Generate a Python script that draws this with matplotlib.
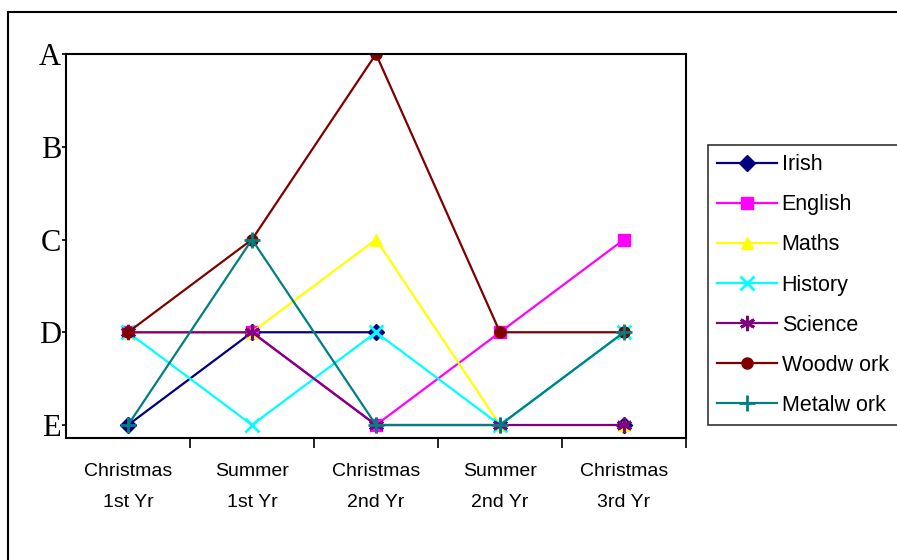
import numpy as np
import matplotlib
matplotlib.use("Agg")
import matplotlib.pyplot as plt
from matplotlib.patches import Rectangle

# Grade scale: E=1 ... A=5
grade_labels = ["E", "D", "C", "B", "A"]
grade_values = [1, 2, 3, 4, 5]

terms = ["Christmas\n1st Yr", "Summer\n1st Yr", "Christmas\n2nd Yr",
         "Summer\n2nd Yr", "Christmas\n3rd Yr"]

irish = [1, 2, 2, np.nan, 1]
english = [2, 2, 1, 2, 3]
maths = [2, 2, 3, 1, 1]
history = [2, 1, 2, 1, 2]
science = [2, 2, 1, 1, 1]
woodwork = [2, 3, 5, 2, 2]
metalwork = [1, 3, 1, 1, 2]

subjects = ["Irish", "English", "Maths", "History", "Science", "Woodw ork", "Metalw ork"]
series = [irish, english, maths, history, science, woodwork, metalwork]
colors = ["#000080", "#FF00FF", "#FFFF00", "#00FFFF", "#800080", "#800000", "#008080"]
markers = ["D", "s", "^", "x", (6, 2, 0), "o", "+"]
msizes = [8, 8, 9, 10, 11, 8, 11]

fig = plt.figure(figsize=(8.97, 5.6), dpi=100)
fig.patch.set_facecolor("white")

# outer chart frame
fig.patches.append(Rectangle((8 / 897, -0.05), 1.0, 1 - 12 / 560 + 0.05,
                             transform=fig.transFigure, fill=False,
                             edgecolor="black", linewidth=1.5))

ax = fig.add_axes([66 / 897, (560 - 438) / 560, 620 / 897, 384 / 560])
x = np.arange(len(terms))
handles = []
for name, vals, c, m, ms in zip(subjects, series, colors, markers, msizes):
    mew = 2.0 if m in ("x", "+", (6, 2, 0)) else 1.0
    h, = ax.plot(x, vals, color=c, linewidth=1.6, marker=m, markersize=ms,
                 markerfacecolor=c, markeredgecolor=c, markeredgewidth=mew,
                 label=name)
    handles.append(h)

ax.set_xlim(-0.5, len(terms) - 0.5)
ax.set_ylim(0.86, 5)
ax.set_yticks(grade_values)
ax.set_yticklabels(grade_labels, fontfamily="Liberation Serif", fontsize=22)
ax.tick_params(axis="y", length=3, width=1.2, pad=0.5)

ax.set_xticks(x)
ax.set_xticklabels(terms, fontfamily="Liberation Sans", fontsize=14,
                   linespacing=2.05)
ax.tick_params(axis="x", which="major", length=0, pad=18)
ax.set_xticks(np.arange(0.5, len(terms) - 0.4, 1.0), minor=True)
ax.tick_params(axis="x", which="minor", length=7, width=1.2)

for s in ax.spines.values():
    s.set_linewidth(1.5)
    s.set_color("black")

leg = fig.legend(handles=handles, loc="upper left",
                 bbox_to_anchor=(708 / 897, 1 - 145 / 560),
                 prop={"family": "Liberation Sans", "size": 15.5},
                 frameon=True, fancybox=False, edgecolor="black",
                 borderpad=0.42, labelspacing=0.89, handlelength=2.8,
                 handletextpad=0.2, borderaxespad=0)
leg.get_frame().set_linewidth(1.2)

fig.savefig("out.png", dpi=100, facecolor="white")
